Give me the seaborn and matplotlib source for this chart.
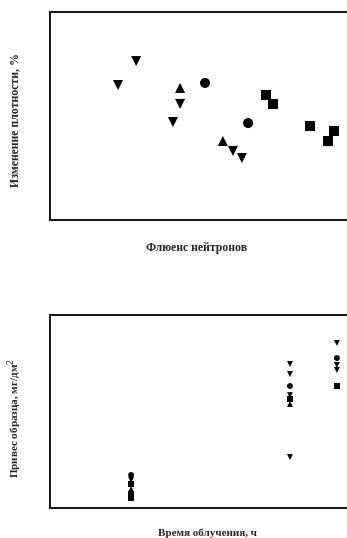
import pandas as pd
import numpy as np
import matplotlib
matplotlib.use("Agg")
import matplotlib.pyplot as plt
import seaborn as sns

# Top panel: density change vs neutron fluence (arbitrary units, no tick labels)
top_x = [22.9, 29.0, 43.8, 43.8, 41.4, 52.2, 66.7, 58.2, 61.6, 64.6, 72.7, 75.1, 87.5, 93.6, 95.6]
top_y = [64.9, 76.4, 63.5, 55.8, 47.1, 65.9, 46.6, 38.0, 33.2, 29.8, 60.1, 55.8, 45.2, 38.0, 42.8]
top_kind = ['down', 'down', 'up', 'down', 'down', 'circle', 'circle', 'up', 'down', 'down',
            'square', 'square', 'square', 'square', 'square']

# Bottom panel: weight gain vs irradiation time
bot_x = [27.3, 27.3, 27.3, 27.3, 27.3, 27.3,
         80.8, 80.8, 80.8, 80.8, 80.8, 80.8, 80.8,
         96.6, 96.6, 96.6, 96.6, 96.6]
bot_y = [17.1, 14.5, 12.4, 9.8, 7.3, 5.2,
         74.6, 69.4, 63.2, 58.5, 56.5, 53.9, 26.4,
         85.5, 77.7, 74.1, 71.5, 63.2]
bot_kind = ['circle', 'down', 'square', 'up', 'square', 'square',
            'down', 'down', 'circle', 'down', 'square', 'up', 'down',
            'down', 'circle', 'down', 'down', 'square']

marker_map = {'down': 'v', 'up': '^', 'circle': 'o', 'square': 's'}

top_df = pd.DataFrame({'x': top_x, 'y': top_y, 'kind': top_kind})
bot_df = pd.DataFrame({'x': bot_x, 'y': bot_y, 'kind': bot_kind})

sns.set_style("white")
plt.rcParams['font.family'] = ['Liberation Serif', 'DejaVu Serif']

fig = plt.figure(figsize=(3.47, 5.38), dpi=100)
W, H = 347, 538

# axes placed in pixel terms
ax1 = fig.add_axes([50 / W, 1 - 220 / H, 297 / W, 208 / H])
ax2 = fig.add_axes([50 / W, 1 - 508 / H, 297 / W, 193 / H])

sns.scatterplot(data=top_df, x='x', y='y', style='kind', markers=marker_map,
                color='black', s=52, edgecolor='black', linewidth=0, legend=False, ax=ax1)
sns.scatterplot(data=bot_df, x='x', y='y', style='kind', markers=marker_map,
                color='black', s=18, edgecolor='black', linewidth=0, legend=False, ax=ax2)

for ax in (ax1, ax2):
    ax.set_xlim(0, 100)
    ax.set_ylim(0, 100)
    ax.set_xticks([])
    ax.set_yticks([])
    for side in ['left', 'bottom', 'top']:
        ax.spines[side].set_color('black')
        ax.spines[side].set_linewidth(1.3)
    ax.spines['right'].set_visible(False)
    ax.set_xlabel('')
    ax.set_ylabel('')

fig.text(197 / W, 1 - 248 / H, 'Флюенс нейтронов', ha='center', va='center',
         fontsize=8.5, fontweight='bold')
fig.text(15 / W, 1 - 120 / H, 'Изменение плотности, %', ha='center', va='center',
         rotation=90, fontsize=8.5, fontweight='bold')

fig.text(207 / W, 1 - 533 / H, 'Время облучения, ч', ha='center', va='center',
         fontsize=8, fontweight='bold')
fig.text(15 / W, 1 - 418 / H, 'Привес образца, мг/дм$^2$', ha='center', va='center',
         rotation=90, fontsize=8, fontweight='bold')

fig.savefig('out.png', dpi=100)
